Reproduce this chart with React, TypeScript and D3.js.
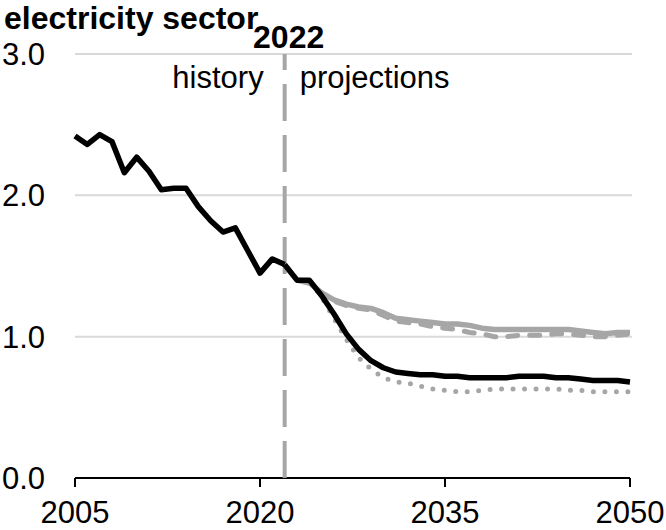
import React from "react";
import * as d3 from "d3";

const historyYears = d3.range(2005, 2023);
const projYears = d3.range(2022, 2051);

const historyValues = [2.42, 2.36, 2.43, 2.38, 2.16, 2.27, 2.17, 2.04, 2.05, 2.05, 1.92, 1.82, 1.74, 1.77, 1.61, 1.45, 1.55, 1.51];

const referenceValues = [1.51, 1.40, 1.40, 1.29, 1.16, 1.02, 0.91, 0.83, 0.78, 0.75, 0.74, 0.73, 0.73, 0.72, 0.72, 0.71, 0.71, 0.71, 0.71, 0.72, 0.72, 0.72, 0.71, 0.71, 0.70, 0.69, 0.69, 0.69, 0.68];
const graySolidValues = [1.51, 1.40, 1.38, 1.31, 1.26, 1.23, 1.21, 1.20, 1.17, 1.13, 1.12, 1.11, 1.10, 1.09, 1.09, 1.08, 1.06, 1.05, 1.05, 1.05, 1.05, 1.05, 1.05, 1.05, 1.04, 1.03, 1.02, 1.03, 1.03];
const grayDashedValues = [1.51, 1.40, 1.38, 1.31, 1.25, 1.22, 1.20, 1.19, 1.15, 1.11, 1.10, 1.09, 1.07, 1.06, 1.05, 1.03, 1.02, 1.00, 1.00, 1.01, 1.01, 1.01, 1.02, 1.02, 1.01, 1.00, 1.00, 1.01, 1.02];
const grayDottedValues = [1.51, 1.40, 1.40, 1.28, 1.13, 0.98, 0.85, 0.77, 0.71, 0.68, 0.67, 0.65, 0.63, 0.62, 0.61, 0.61, 0.62, 0.63, 0.63, 0.63, 0.63, 0.63, 0.63, 0.62, 0.62, 0.61, 0.61, 0.61, 0.61];

const yTicks = [0, 1, 2, 3];
const xTicks = [2005, 2020, 2035, 2050];
const dividerYear = 2022;

const W = 666;
const H = 530;
const left = 75;
const right = 630;
const top = 54;
const bottom = 478;

export default function App() {
  const x = d3.scaleLinear().domain([2005, 2050]).range([left, right]);
  const y = d3.scaleLinear().domain([0, 3]).range([bottom, top]);
  const line = d3
    .line<[number, number]>()
    .x((d) => x(d[0]))
    .y((d) => y(d[1]));
  const zip = (ys: number[], vs: number[]) => ys.map((yr, i) => [yr, vs[i]] as [number, number]);

  const gray = "#a6a6a6";
  const font = "Liberation Sans, Arial, sans-serif";
  const fs = 31;
  const fsb = 32;

  return (
    <div style={{ position: "absolute", left: 0, top: 0 }}>
      <svg width={W} height={H} style={{ display: "block" }} fontFamily={font}>
        {yTicks.filter((t) => t > 0).map((t) => (
          <line key={t} x1={left} x2={right + 2} y1={y(t)} y2={y(t)} stroke="#d9d9d9" strokeWidth={2} />
        ))}
        {yTicks.map((t) => (
          <text key={"yl" + t} x={2} y={y(t) + 11} fontSize={fs} fill="#000">
            {d3.format(".1f")(t)}
          </text>
        ))}
        {/* x axis */}
        <line x1={left} x2={right} y1={bottom} y2={bottom} stroke="#000" strokeWidth={2} />
        {xTicks.map((t) => (
          <g key={"xt" + t}>
            <line x1={x(t)} x2={x(t)} y1={bottom} y2={bottom + 9} stroke="#000" strokeWidth={2} />
            <text x={x(t)} y={523} fontSize={fs} textAnchor="middle" fill="#000">
              {t}
            </text>
          </g>
        ))}
        {/* divider */}
        <line
          x1={x(dividerYear)}
          x2={x(dividerYear)}
          y1={bottom}
          y2={top}
          stroke={gray}
          strokeWidth={4}
          strokeDasharray="37 14"
        />
        <text x={x(dividerYear) + 4} y={48} fontSize={fsb} fontWeight="bold" textAnchor="middle" fill="#000">
          {dividerYear}
        </text>
        <text x={x(dividerYear) - 21} y={88} fontSize={fs} textAnchor="end" fill="#000">
          history
        </text>
        <text x={x(dividerYear) + 15} y={88} fontSize={fs} textAnchor="start" fill="#000">
          projections
        </text>
        {/* series */}
        <path d={line(zip(projYears, grayDottedValues)) || ""} fill="none" stroke={gray} strokeWidth={5} strokeLinecap="round" strokeDasharray="0 11.5" />
        <path d={line(zip(projYears, grayDashedValues)) || ""} fill="none" stroke={gray} strokeWidth={5} strokeLinecap="round" strokeDasharray="10 12" />
        <path d={line(zip(projYears, graySolidValues)) || ""} fill="none" stroke={gray} strokeWidth={5.5} strokeLinejoin="round" />
        <path d={line(zip(historyYears, historyValues)) || ""} fill="none" stroke="#000" strokeWidth={5.5} strokeLinejoin="round" />
        <path d={line(zip(projYears, referenceValues)) || ""} fill="none" stroke="#000" strokeWidth={5.5} strokeLinejoin="round" />
        <text x={4} y={29} fontSize={fsb} fontWeight="bold" fill="#000">
          electricity sector
        </text>
      </svg>
    </div>
  );
}
